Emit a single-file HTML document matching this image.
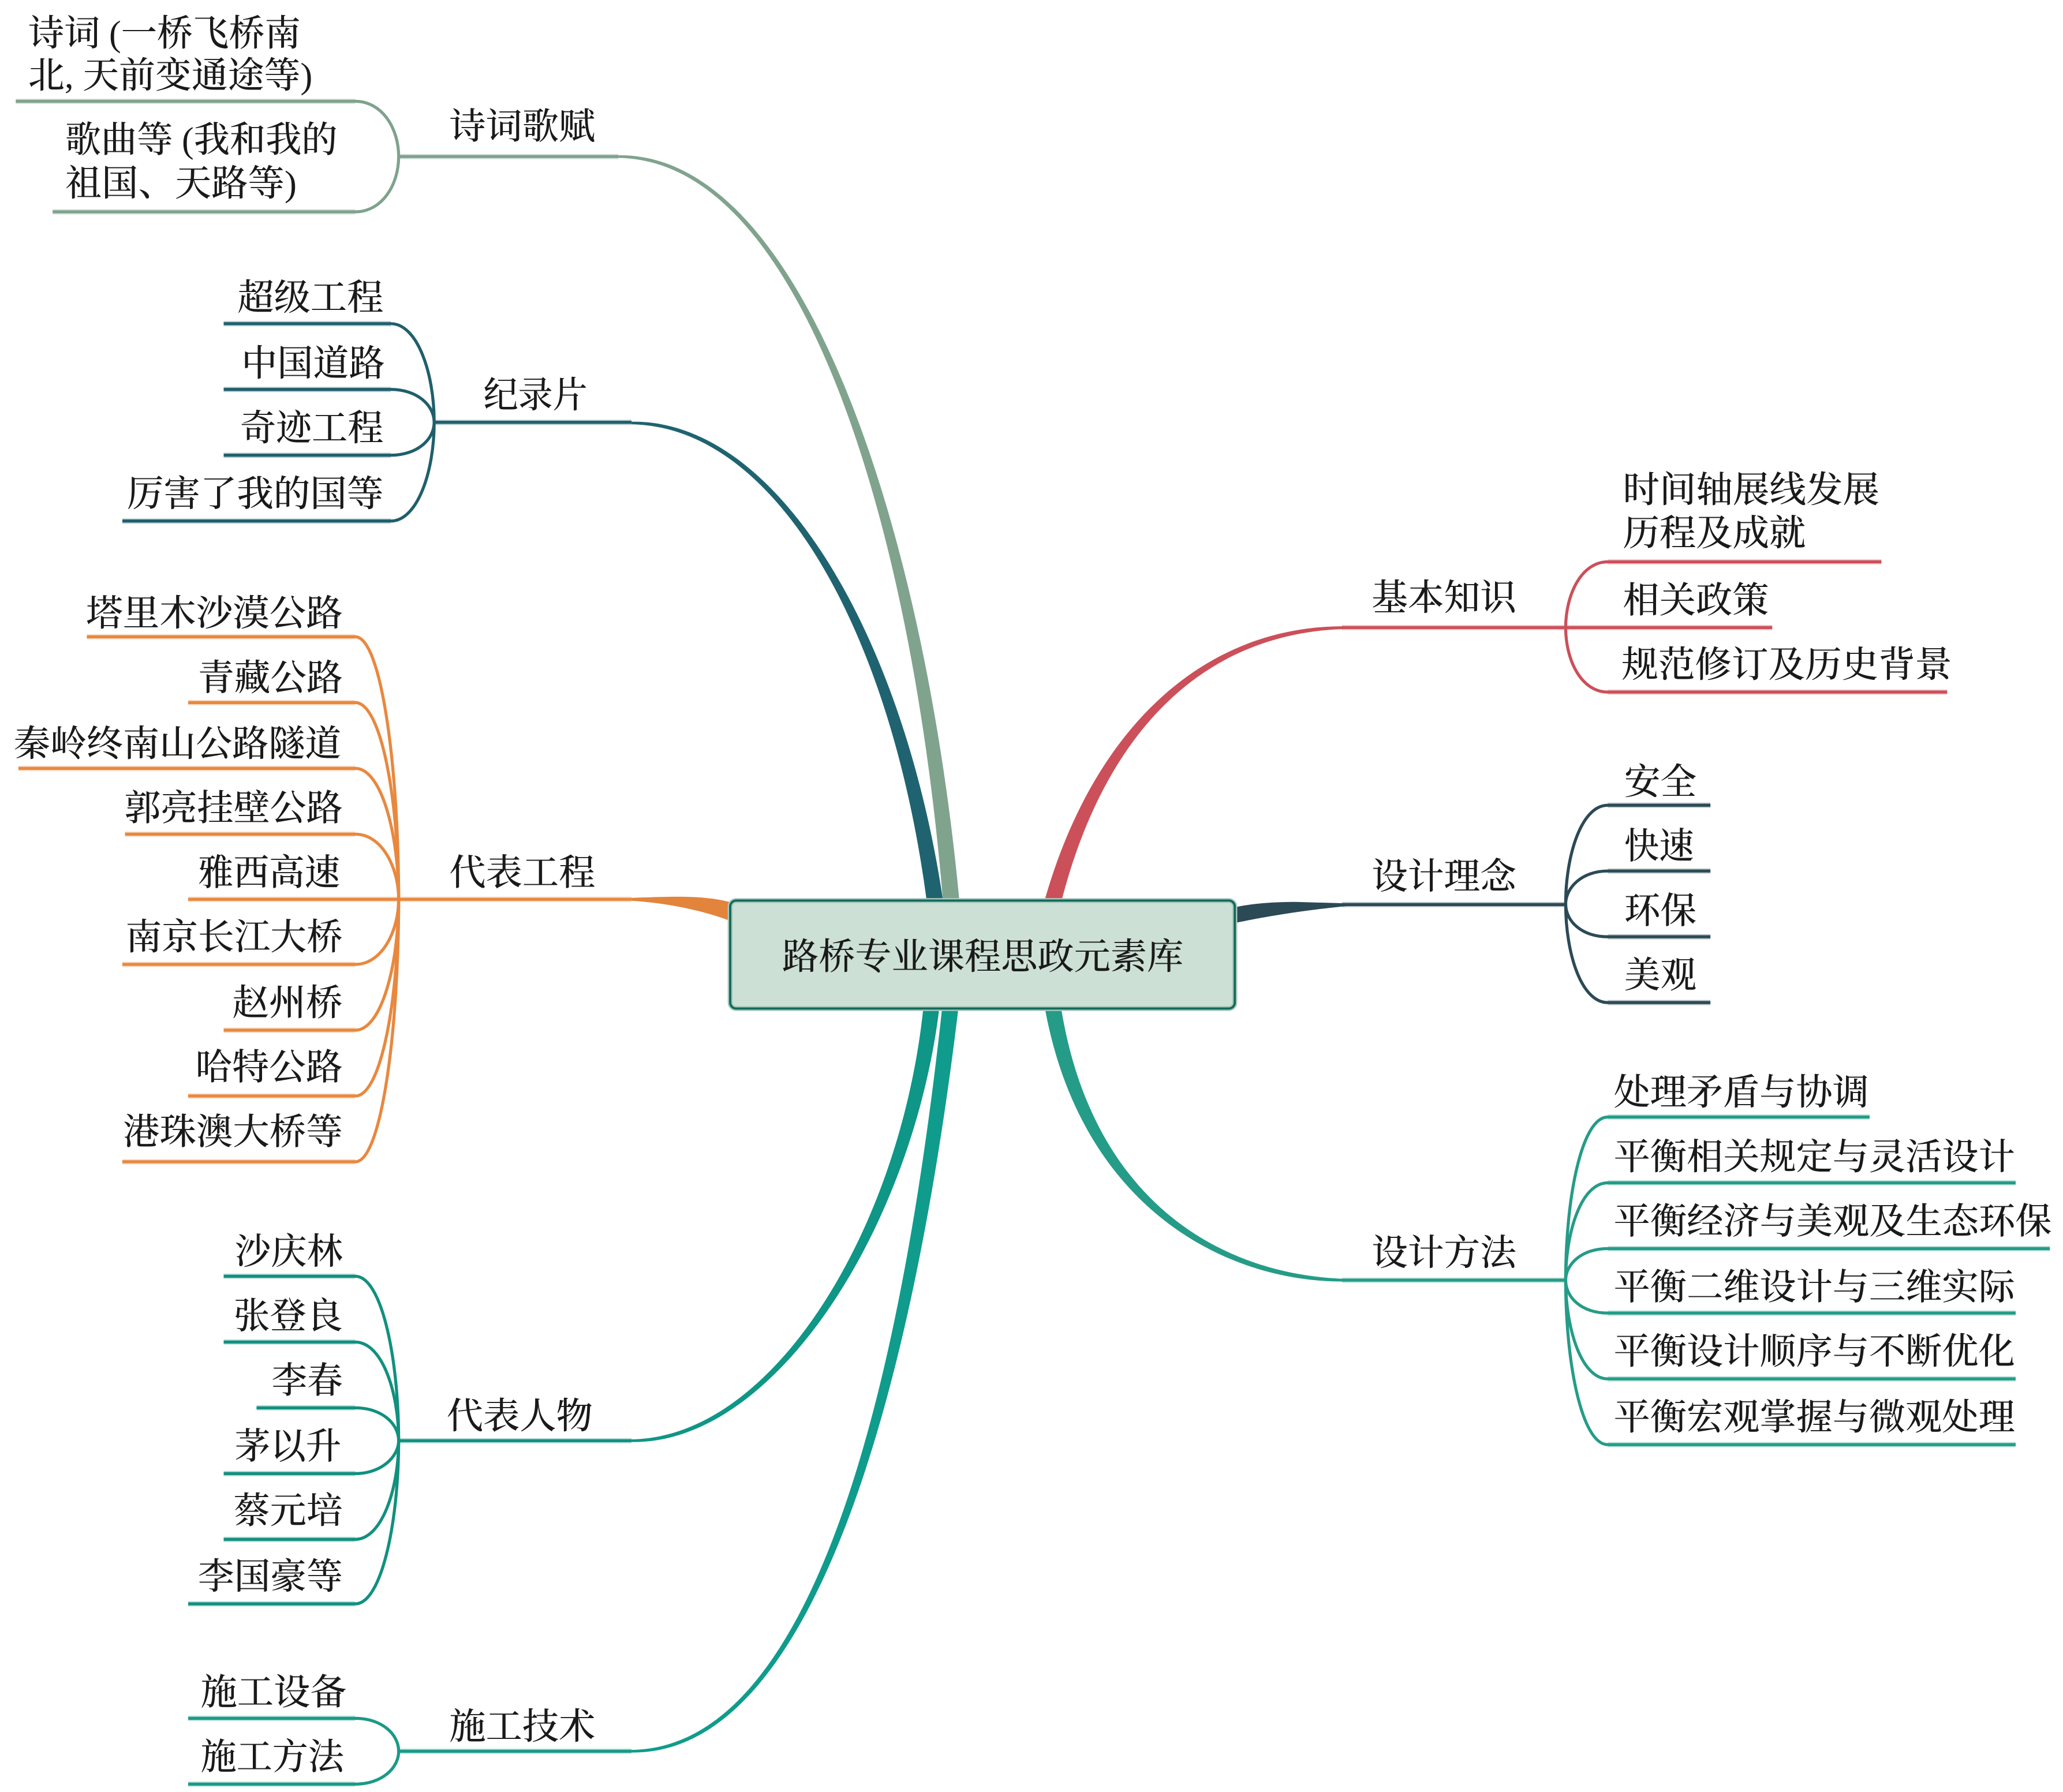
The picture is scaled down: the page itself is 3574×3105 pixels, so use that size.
<!DOCTYPE html>
<html lang="zh"><head><meta charset="utf-8"><title>路桥专业课程思政元素库</title>
<style>
html,body{margin:0;padding:0;background:#fff}
svg{display:block;width:3574px;height:3105px}
text{font-family:"Liberation Serif","Noto Serif CJK SC",serif;font-size:27.6px;fill:#1a1a1a;font-weight:500}
path.l{fill:none;stroke-width:2.3}
path.h{fill:none;stroke-width:4;stroke-opacity:.3}
</style></head><body>
<svg viewBox="0 0 1568 1362" preserveAspectRatio="none" xmlns="http://www.w3.org/2000/svg">
<!-- main branches -->
<path fill="#1f6370" d="M480,322.5 C590,324.3 677.4,479.4 704.5,686 L717,686 C686.6,480.6 590,318.7 480,320.5Z"/>
<path fill="#80a38e" d="M470,120 C610,121.8 693.35,399.6 716.8,686 L729.3,686 C702.65,400.4 610,116.2 470,118Z"/>
<path fill="#cc5059" d="M1025,476 C915,474.2 830.5,553.8 793.5,686 L806.5,686 C839.5,556.2 915,479.8 1025,478Z"/>
<path fill="#e2843c" d="M480,682.4 C510,681.5 535,680 556,686 L556,700.3 C535,692 505,686 480,684.6Z"/>
<path fill="#2b4a56" d="M938,689.7 C950,687 965,685.5 985,685.5 L1024,686.6 L1024,688.6 C1005,690.5 975,694 938,701.6Z"/>
<path fill="#259c87" d="M793.8,764 C820.4,915.8 930,975.8 1025,974 L1025,972 C930,970.2 829.6,914.2 806.2,764Z"/>
<path fill="#0e9686" d="M480,1094 C590,1092.2 685.4,929.5 702,764 L714.2,764 C694.6,930.5 590,1097.8 480,1096Z"/>
<path fill="#0f9c8c" d="M480,1330 C620,1328.2 685.4,1049.5 716.3,764 L728.7,764 C694.6,1050.5 620,1333.8 480,1332Z"/>
<!-- center -->
<rect x="555" y="684.5" width="383.5" height="82" rx="4.5" fill="#cde0d5" stroke="#abc9bd" stroke-width="3.8"/>
<rect x="555" y="684.5" width="383.5" height="82" rx="4.5" fill="none" stroke="#116b5c" stroke-width="1.7"/>
<!-- 诗词歌赋 -->
<g stroke="#7fa28d">
<path class="h" d="M303,119 H470 M12,77 H270 M40,161 H270"/>
<path class="l" d="M470,119 H303"/>
<path class="l" d="M12,77 H270 C290,77 303,97 303,119 C303,141 290,161 270,161 H40"/>
</g>
<!-- 纪录片 -->
<g stroke="#1f5f6c">
<path class="h" d="M330,321 H480 M170,246 H297 M170,296 H297 M170,346 H297 M93,396 H297"/>
<path class="l" d="M480,321 H330"/>
<path class="l" d="M170,246 H297 C317,246 330,283 330,321 C330,359 317,396 297,396 H93"/>
<path class="l" d="M170,296 H297 C317,296 330,308 330,321 C330,334 317,346 297,346 H170"/>
</g>
<!-- 代表工程 -->
<g stroke="#e8883f">
<path class="h" d="M143,683.5 H480 M66,484 H270 M143,534 H270 M14,584 H270 M95,634 H270 M93,733 H270 M170,783 H270 M143,833 H270 M93,883 H270"/>
<path class="l" d="M480,683.5 H143"/>
<path class="l" d="M66,484 H270 C290,484 303,584 303,683.5 C303,783 290,883 270,883 H93"/>
<path class="l" d="M143,534 H270 C290,534 303,609 303,683.5 C303,758 290,833 270,833 H143"/>
<path class="l" d="M14,584 H270 C290,584 303,634 303,683.5 C303,733 290,783 270,783 H170"/>
<path class="l" d="M95,634 H270 C290,634 303,659 303,683.5 C303,708 290,733 270,733 H93"/>
</g>
<!-- 代表人物 -->
<g stroke="#11907f">
<path class="h" d="M303,1095 H480 M170,970 H270 M170,1020 H270 M195,1070 H270 M170,1120 H270 M170,1170 H270 M143,1219 H270"/>
<path class="l" d="M480,1095 H303"/>
<path class="l" d="M170,970 H270 C290,970 303,1032 303,1095 C303,1157 290,1219 270,1219 H143"/>
<path class="l" d="M170,1020 H270 C290,1020 303,1057 303,1095 C303,1132 290,1170 270,1170 H170"/>
<path class="l" d="M195,1070 H270 C290,1070 303,1082 303,1095 C303,1107 290,1120 270,1120 H170"/>
</g>
<!-- 施工技术 -->
<g stroke="#1a9a86">
<path class="h" d="M303,1331 H480 M143,1306 H270 M143,1356 H270"/>
<path class="l" d="M480,1331 H303"/>
<path class="l" d="M143,1306 H270 C290,1306 303,1318 303,1331 C303,1344 290,1356 270,1356 H143"/>
</g>
<!-- 基本知识 -->
<g stroke="#cb505a">
<path class="h" d="M1020,477 H1347 M1222,427 H1430 M1222,526 H1480"/>
<path class="l" d="M1020,477 H1347"/>
<path class="l" d="M1430,427 H1222 C1202,427 1190,452 1190,477 C1190,502 1202,526 1222,526 H1480"/>
</g>
<!-- 设计理念 -->
<g stroke="#2b4a56">
<path class="h" d="M1020,687.5 H1190 M1222,612 H1300 M1222,662 H1300 M1222,712 H1300 M1222,762 H1300"/>
<path class="l" d="M1020,687.5 H1190"/>
<path class="l" d="M1300,612 H1222 C1202,612 1190,650 1190,687 C1190,725 1202,762 1222,762 H1300"/>
<path class="l" d="M1300,662 H1222 C1202,662 1190,675 1190,687 C1190,700 1202,712 1222,712 H1300"/>
</g>
<!-- 设计方法 -->
<g stroke="#249c87">
<path class="h" d="M1020,973 H1190 M1222,849 H1421 M1222,899 H1532 M1222,949 H1558 M1222,998 H1532 M1222,1048 H1532 M1222,1098 H1532"/>
<path class="l" d="M1020,973 H1190"/>
<path class="l" d="M1421,849 H1222 C1202,849 1190,911 1190,973 C1190,1035 1202,1098 1222,1098 H1532"/>
<path class="l" d="M1532,899 H1222 C1202,899 1190,936 1190,973 C1190,1010 1202,1048 1222,1048 H1532"/>
<path class="l" d="M1558,949 H1222 C1202,949 1190,961 1190,973 C1190,986 1202,998 1222,998 H1532"/>
</g>
<!-- text -->
<g transform="translate(-0.5,0.6)">
<text x="595" y="736" textLength="305" lengthAdjust="spacingAndGlyphs">路桥专业课程思政元素库</text>
<text x="342" y="105" textLength="111" lengthAdjust="spacingAndGlyphs">诗词歌赋</text>
<text x="368" y="309" textLength="79" lengthAdjust="spacingAndGlyphs">纪录片</text>
<text x="342" y="672" textLength="111" lengthAdjust="spacingAndGlyphs">代表工程</text>
<text x="340" y="1085" textLength="111" lengthAdjust="spacingAndGlyphs">代表人物</text>
<text x="342" y="1321" textLength="111" lengthAdjust="spacingAndGlyphs">施工技术</text>
<text x="1043" y="463" textLength="110" lengthAdjust="spacingAndGlyphs">基本知识</text>
<text x="1043" y="675" textLength="110" lengthAdjust="spacingAndGlyphs">设计理念</text>
<text x="1043" y="961" textLength="110" lengthAdjust="spacingAndGlyphs">设计方法</text>

<text x="22" y="34" textLength="207" lengthAdjust="spacingAndGlyphs">诗词 (一桥飞桥南</text>
<text x="22" y="66" textLength="216" lengthAdjust="spacingAndGlyphs">北, 天前变通途等)</text>
<text x="50" y="115" textLength="207" lengthAdjust="spacingAndGlyphs">歌曲等 (我和我的</text>
<text x="50" y="148" textLength="176" lengthAdjust="spacingAndGlyphs">祖国、天路等)</text>

<text x="181" y="235" textLength="111" lengthAdjust="spacingAndGlyphs">超级工程</text>
<text x="184" y="285" textLength="109" lengthAdjust="spacingAndGlyphs">中国道路</text>
<text x="183" y="334" textLength="109" lengthAdjust="spacingAndGlyphs">奇迹工程</text>
<text x="97" y="384" textLength="195" lengthAdjust="spacingAndGlyphs">厉害了我的国等</text>

<text x="66" y="475" textLength="195" lengthAdjust="spacingAndGlyphs">塔里木沙漠公路</text>
<text x="151" y="524" textLength="110" lengthAdjust="spacingAndGlyphs">青藏公路</text>
<text x="11" y="574" textLength="249" lengthAdjust="spacingAndGlyphs">秦岭终南山公路隧道</text>
<text x="95" y="623" textLength="166" lengthAdjust="spacingAndGlyphs">郭亮挂壁公路</text>
<text x="151" y="672" textLength="108" lengthAdjust="spacingAndGlyphs">雅西高速</text>
<text x="96" y="721" textLength="165" lengthAdjust="spacingAndGlyphs">南京长江大桥</text>
<text x="177" y="771" textLength="84" lengthAdjust="spacingAndGlyphs">赵州桥</text>
<text x="149" y="820" textLength="112" lengthAdjust="spacingAndGlyphs">哈特公路</text>
<text x="94" y="869" textLength="167" lengthAdjust="spacingAndGlyphs">港珠澳大桥等</text>

<text x="179" y="960" textLength="82" lengthAdjust="spacingAndGlyphs">沙庆林</text>
<text x="178" y="1009" textLength="83" lengthAdjust="spacingAndGlyphs">张登良</text>
<text x="207" y="1058" textLength="54" lengthAdjust="spacingAndGlyphs">李春</text>
<text x="179" y="1108" textLength="81" lengthAdjust="spacingAndGlyphs">茅以升</text>
<text x="178" y="1157" textLength="83" lengthAdjust="spacingAndGlyphs">蔡元培</text>
<text x="151" y="1207" textLength="110" lengthAdjust="spacingAndGlyphs">李国豪等</text>

<text x="153" y="1295" textLength="111" lengthAdjust="spacingAndGlyphs">施工设备</text>
<text x="153" y="1344" textLength="109" lengthAdjust="spacingAndGlyphs">施工方法</text>

<text x="1234" y="381" textLength="195" lengthAdjust="spacingAndGlyphs">时间轴展线发展</text>
<text x="1234" y="414" textLength="139" lengthAdjust="spacingAndGlyphs">历程及成就</text>
<text x="1234" y="465" textLength="111" lengthAdjust="spacingAndGlyphs">相关政策</text>
<text x="1233" y="514" textLength="251" lengthAdjust="spacingAndGlyphs">规范修订及历史背景</text>

<text x="1235" y="603" textLength="55" lengthAdjust="spacingAndGlyphs">安全</text>
<text x="1235" y="652" textLength="53" lengthAdjust="spacingAndGlyphs">快速</text>
<text x="1235" y="701" textLength="55" lengthAdjust="spacingAndGlyphs">环保</text>
<text x="1235" y="750" textLength="55" lengthAdjust="spacingAndGlyphs">美观</text>

<text x="1227" y="839" textLength="194" lengthAdjust="spacingAndGlyphs">处理矛盾与协调</text>
<text x="1227" y="888" textLength="305" lengthAdjust="spacingAndGlyphs">平衡相关规定与灵活设计</text>
<text x="1227" y="937" textLength="333" lengthAdjust="spacingAndGlyphs">平衡经济与美观及生态环保</text>
<text x="1227" y="987" textLength="305" lengthAdjust="spacingAndGlyphs">平衡二维设计与三维实际</text>
<text x="1227" y="1036" textLength="305" lengthAdjust="spacingAndGlyphs">平衡设计顺序与不断优化</text>
<text x="1227" y="1086" textLength="305" lengthAdjust="spacingAndGlyphs">平衡宏观掌握与微观处理</text>
</g>
</svg>
</body></html>
